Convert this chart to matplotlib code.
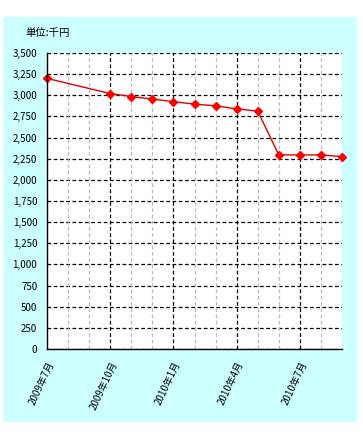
import matplotlib
matplotlib.use("Agg")
import matplotlib.pyplot as plt
from matplotlib.patches import Rectangle
from matplotlib.ticker import FuncFormatter, MultipleLocator

plt.rcParams["font.family"] = ["Noto Sans CJK JP", "DejaVu Sans"]

# monthly values (thousand yen)
months = ["2009-07", "2009-10", "2009-11", "2009-12", "2010-01", "2010-02",
          "2010-03", "2010-04", "2010-05", "2010-06", "2010-07", "2010-08",
          "2010-09"]
values = [3200, 3020, 2985, 2955, 2925, 2895, 2875, 2840, 2812, 2295, 2295,
          2295, 2275]
tick_months = ["2009-07", "2009-10", "2010-01", "2010-04", "2010-07"]
tick_labels = ["2009年7月", "2009年10月", "2010年1月", "2010年4月", "2010年7月"]
unit_label = "単位:千円"
start = "2009-07"
end = "2010-09"


def month_idx(s):
    y, m = s.split("-")
    y0, m0 = start.split("-")
    return (int(y) - int(y0)) * 12 + int(m) - int(m0)


W, H = 363, 433
fig = plt.figure(figsize=(W / 100, H / 100), dpi=100, facecolor="white")
fig.patches.append(Rectangle((3 / W, 1 - 422 / H), 354 / W, 405 / H,
                             transform=fig.transFigure, facecolor="#CCFFFF",
                             edgecolor="none", zorder=-10))

ax = fig.add_axes([47 / W, 1 - 349 / H, 295 / W, 296 / H])
ax.set_facecolor("white")

xs = [month_idx(m) for m in months]
x_end = month_idx(end)

# gridlines: minor monthly gray, major quarterly black
for i in range(1, x_end + 1):
    if i % 3 == 0:
        ax.axvline(i, color="black", ls=(0, (3, 2)), lw=0.9, zorder=1)
    else:
        ax.axvline(i, color="#BBBBBB", ls=(0, (3, 2)), lw=0.9, zorder=1)
ax.yaxis.set_major_locator(MultipleLocator(250))
ax.grid(axis="y", color="black", ls=(0, (3, 2)), lw=0.9, zorder=1)
ax.set_axisbelow(True)

ax.plot(xs, values, color="#DD0000", lw=1.0, marker="D", ms=4.5,
        mfc="#FF0000", mec="#FF0000", zorder=3, clip_on=False)

ax.set_xlim(0, x_end)
ax.set_ylim(0, 3500)
ax.set_xticks([month_idx(m) for m in tick_months])
ax.set_xticklabels(tick_labels, rotation=65, ha="right", va="top",
                   rotation_mode="anchor", fontsize=7)
ax.yaxis.set_major_formatter(FuncFormatter(lambda v, p: f"{int(v):,}"))
ax.tick_params(axis="y", length=0, labelsize=7, pad=7)
ax.tick_params(axis="x", length=0, pad=8)

for s in ["top", "right"]:
    ax.spines[s].set_visible(False)
for s in ["left", "bottom"]:
    ax.spines[s].set_linewidth(1.0)
    ax.spines[s].set_zorder(4)

fig.text(25 / W, 1 - 33 / H, unit_label, fontsize=7.5, va="center", ha="left")

fig.savefig("out.png", dpi=100)
